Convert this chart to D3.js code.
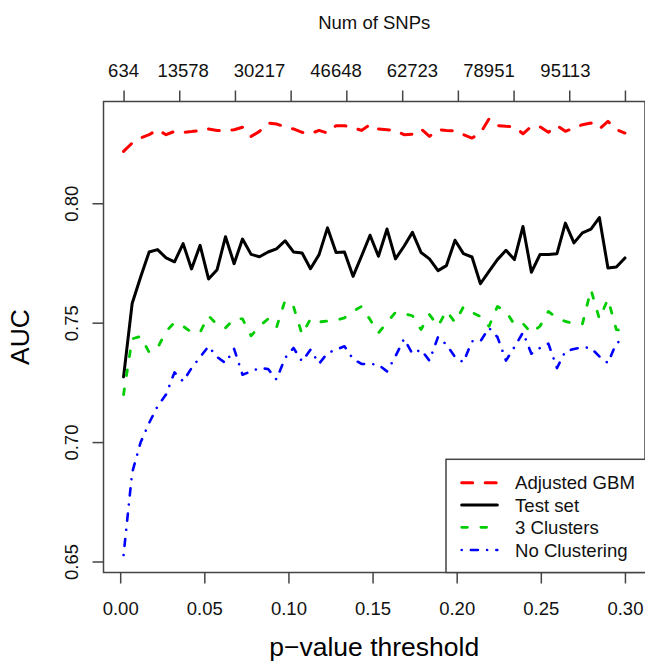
<!DOCTYPE html>
<html>
<head>
<meta charset="utf-8">
<script src="https://cdn.jsdelivr.net/npm/d3@7"></script>
<style>
  html, body { margin: 0; padding: 0; background: #fff; }
  svg { display: block; font-family: "Liberation Sans", Arial, Helvetica, sans-serif; }
</style>
</head>
<body>
<svg id="chart" width="645" height="663"></svg>
<script>
// p-value thresholds (x categories)
const pThresholds = [0.0020,0.0071,0.0121,0.0172,0.0222,0.0273,0.0323,0.0374,0.0424,0.0475,
  0.0525,0.0576,0.0626,0.0677,0.0727,0.0778,0.0828,0.0879,0.0929,0.0980,
  0.1030,0.1081,0.1131,0.1182,0.1232,0.1283,0.1333,0.1384,0.1434,0.1485,
  0.1535,0.1586,0.1636,0.1687,0.1737,0.1788,0.1838,0.1889,0.1939,0.1990,
  0.2040,0.2091,0.2141,0.2192,0.2242,0.2293,0.2343,0.2394,0.2444,0.2495,
  0.2545,0.2596,0.2646,0.2697,0.2747,0.2798,0.2848,0.2899,0.2949,0.3000];

const adjustedGBM = [0.8217,0.8252,0.8273,0.8287,0.8308,0.8287,0.8301,0.8297,0.8300,0.8304,
  0.8311,0.8305,0.8305,0.8308,0.8318,0.8280,0.8301,0.8336,0.8332,0.8320,
  0.8311,0.8297,0.8291,0.8305,0.8294,0.8325,0.8325,0.8317,0.8305,0.8329,
  0.8311,0.8308,0.8305,0.8287,0.8289,0.8311,0.8280,0.8308,0.8305,0.8303,
  0.8287,0.8273,0.8294,0.8353,0.8325,0.8322,0.8320,0.8291,0.8322,0.8320,
  0.8297,0.8325,0.8301,0.8315,0.8329,0.8336,0.8311,0.8343,0.8308,0.8294];

const testSet = [0.7273,0.7580,0.7690,0.7796,0.7806,0.7771,0.7755,0.7831,0.7725,0.7824,
  0.7683,0.7722,0.7860,0.7747,0.7850,0.7786,0.7776,0.7796,0.7809,0.7843,
  0.7796,0.7792,0.7726,0.7785,0.7897,0.7794,0.7796,0.7694,0.7778,0.7866,
  0.7778,0.7892,0.7767,0.7820,0.7878,0.7794,0.7767,0.7718,0.7739,0.7845,
  0.7789,0.7775,0.7663,0.7715,0.7764,0.7803,0.7764,0.7903,0.7711,0.7785,
  0.7785,0.7789,0.7917,0.7834,0.7876,0.7892,0.7940,0.7729,0.7733,0.7771];

const threeClusters = [0.7199,0.7432,0.7443,0.7376,0.7394,0.7464,0.7501,0.7485,0.7460,0.7460,
  0.7529,0.7492,0.7478,0.7516,0.7516,0.7445,0.7485,0.7516,0.7480,0.7593,
  0.7568,0.7450,0.7516,0.7503,0.7507,0.7510,0.7520,0.7547,0.7568,0.7513,
  0.7457,0.7501,0.7543,0.7538,0.7529,0.7471,0.7534,0.7485,0.7550,0.7501,
  0.7566,0.7543,0.7526,0.7485,0.7568,0.7547,0.7492,0.7496,0.7457,0.7485,
  0.7547,0.7520,0.7505,0.7496,0.7494,0.7638,0.7516,0.7599,0.7471,0.7464];

const noClustering = [0.6527,0.6872,0.6998,0.7080,0.7150,0.7200,0.7292,0.7254,0.7310,0.7356,
  0.7401,0.7356,0.7331,0.7390,0.7282,0.7296,0.7310,0.7306,0.7262,0.7352,
  0.7394,0.7338,0.7387,0.7328,0.7373,0.7387,0.7401,0.7348,0.7327,0.7327,
  0.7324,0.7296,0.7359,0.7432,0.7370,0.7387,0.7341,0.7440,0.7408,0.7356,
  0.7334,0.7422,0.7422,0.7478,0.7440,0.7341,0.7398,0.7459,0.7370,0.7394,
  0.7412,0.7310,0.7380,0.7390,0.7397,0.7394,0.7359,0.7331,0.7415,0.7432];

const seriesNames = ["Adjusted GBM", "Test set", "3 Clusters", "No Clustering"];
const bottomTicks = [0.00, 0.05, 0.10, 0.15, 0.20, 0.25, 0.30];
const leftTicks = [0.65, 0.70, 0.75, 0.80];
const topTickP = [0.0020,0.0351,0.0682,0.1013,0.1344,0.1676,0.2007,0.2338,0.2669,0.3000];
const topLabelP = [0.0020,0.0374,0.0828,0.1283,0.1737,0.2192,0.2646];
const topLabels = ["634","13578","30217","46648","62723","78951","95113"];

// ---- layout / style ----
const frame = { left: 103.5, right: 645, top: 101.5, bottom: 572.5 };
const axisColor = "#444";
const tickFont = 18.5, titleFont = 26.5;
const styles = [
  { color: "#FF0000", width: 3,   dash: "11,12.5" },
  { color: "#000000", width: 3,   dash: null },
  { color: "#00CD00", width: 2.8, dash: "5.7,13.5" },
  { color: "#0000FF", width: 2.6, dash: "0.01,9.2,7,9.2" }
];
const allSeries = [adjustedGBM, testSet, threeClusters, noClustering];

const svg = d3.select("#chart");

// R-style 4% extension of the data range
const xMin = d3.min(pThresholds), xMax = d3.max(pThresholds);
const xPad = (xMax - xMin) * 0.04;
const yAll = allSeries.flat();
const yMin = d3.min(yAll), yMax = d3.max(yAll);
const yPad = (yMax - yMin) * 0.04;

const x = d3.scaleLinear().domain([xMin - xPad, xMax + xPad]).range([frame.left, frame.right]);
const y = d3.scaleLinear().domain([yMin - yPad, yMax + yPad]).range([frame.bottom, frame.top]);

// lines
const line = d3.line().x((d, i) => x(pThresholds[i])).y(d => y(d));
const plotG = svg.append("g");
allSeries.forEach((s, k) => {
  plotG.append("path")
    .datum(s)
    .attr("d", line)
    .attr("fill", "none")
    .attr("stroke", styles[k].color)
    .attr("stroke-width", styles[k].width)
    .attr("stroke-linecap", "round")
    .attr("stroke-linejoin", "round")
    .attr("stroke-dasharray", styles[k].dash);
});

// frame
svg.append("rect")
  .attr("x", frame.left).attr("y", frame.top)
  .attr("width", frame.right - frame.left).attr("height", frame.bottom - frame.top)
  .attr("fill", "none").attr("stroke", axisColor).attr("stroke-width", 1.5);

// bottom axis
const gB = svg.append("g").attr("transform", `translate(0,${frame.bottom})`)
  .call(d3.axisBottom(x).tickValues(bottomTicks).tickSize(11).tickPadding(18.5)
    .tickFormat(d3.format(".2f")));
gB.select(".domain").remove();
gB.selectAll(".tick line").attr("stroke", axisColor).attr("stroke-width", 1.5);
gB.selectAll(".tick text").attr("font-size", tickFont).attr("fill", "#111")
  .attr("font-family", "Liberation Sans, Arial, sans-serif");

// left axis
const gL = svg.append("g").attr("transform", `translate(${frame.left},0)`)
  .call(d3.axisLeft(y).tickValues(leftTicks).tickSize(11).tickFormat(d3.format(".2f")));
gL.select(".domain").remove();
gL.selectAll(".tick line").attr("stroke", axisColor).attr("stroke-width", 1.5);
gL.selectAll(".tick text")
  .attr("x", null).attr("dy", null)
  .attr("transform", `translate(${78 - frame.left},0) rotate(-90)`)
  .attr("text-anchor", "middle")
  .attr("font-size", tickFont).attr("fill", "#111")
  .attr("font-family", "Liberation Sans, Arial, sans-serif");

// top axis (Num of SNPs)
const gT = svg.append("g").attr("transform", `translate(0,${frame.top})`)
  .call(d3.axisTop(x).tickValues(topTickP).tickSize(11).tickFormat(""));
gT.select(".domain").remove();
gT.selectAll(".tick line").attr("stroke", axisColor).attr("stroke-width", 1.5);
svg.append("g").selectAll("text").data(topLabels).join("text")
  .attr("x", (d, i) => x(topLabelP[i]))
  .attr("y", 77)
  .attr("text-anchor", "middle")
  .attr("font-size", tickFont).attr("fill", "#111")
  .text(d => d);

// titles
const cx = (frame.left + frame.right) / 2;
svg.append("text").attr("x", cx).attr("y", 29).attr("text-anchor", "middle")
  .attr("font-size", tickFont).attr("fill", "#111").text("Num of SNPs");
svg.append("text").attr("x", cx).attr("y", 656).attr("text-anchor", "middle")
  .attr("font-size", titleFont).attr("fill", "#000").text("p\u2212value threshold");
svg.append("text").attr("transform", `translate(28.5,${(frame.top + frame.bottom) / 2}) rotate(-90)`)
  .attr("text-anchor", "middle")
  .attr("font-size", titleFont).attr("fill", "#000").text("AUC");

// legend
const leg = { left: 446, top: 459.3, rowY: [482.7, 505, 527.3, 550], x1: 461.7, x2: 497.3, tx: 515 };
svg.append("rect")
  .attr("x", leg.left).attr("y", leg.top)
  .attr("width", frame.right - leg.left + 2).attr("height", frame.bottom - leg.top)
  .attr("fill", "#fff").attr("stroke", axisColor).attr("stroke-width", 1.5);
const legG = svg.append("g").selectAll("g").data(seriesNames).join("g");
legG.append("line")
  .attr("x1", leg.x1).attr("x2", leg.x2)
  .attr("y1", (d, i) => leg.rowY[i]).attr("y2", (d, i) => leg.rowY[i])
  .attr("stroke", (d, i) => styles[i].color)
  .attr("stroke-width", (d, i) => styles[i].width)
  .attr("stroke-linecap", "round")
  .attr("stroke-dasharray", (d, i) => styles[i].dash);
legG.append("text")
  .attr("x", leg.tx).attr("y", (d, i) => leg.rowY[i] + 6.6)
  .attr("font-size", 18.6).attr("fill", "#111")
  .text(d => d);
</script>
</body>
</html>
